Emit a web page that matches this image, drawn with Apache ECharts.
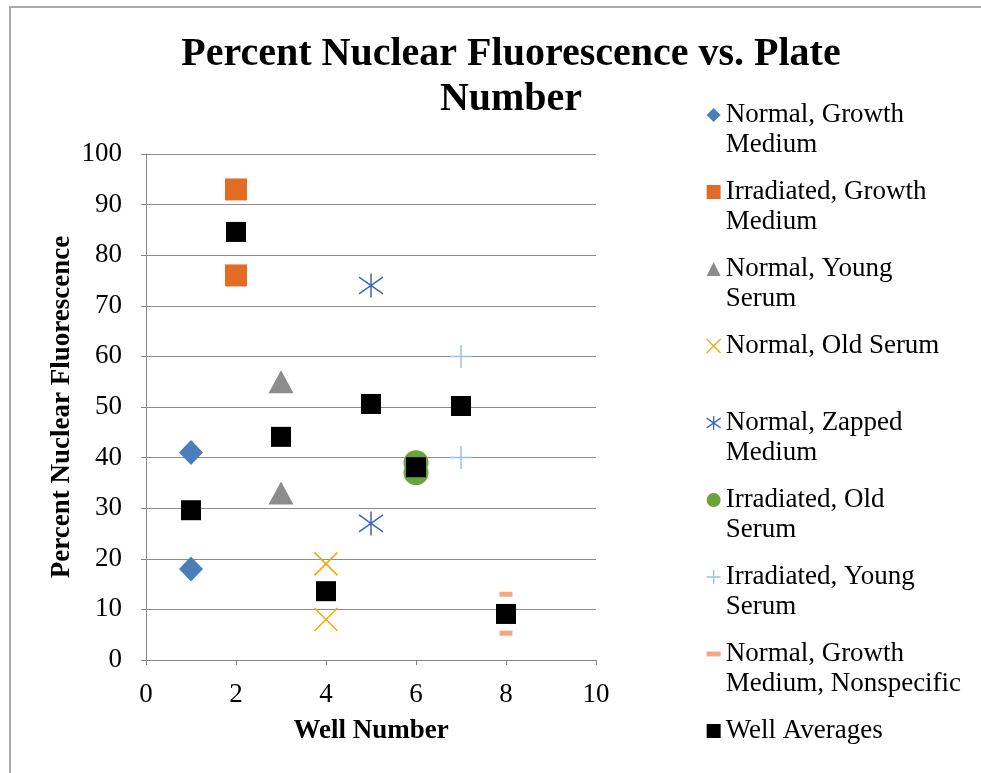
<!DOCTYPE html>
<html>
<head>
<meta charset="utf-8">
<script src="https://cdn.jsdelivr.net/npm/echarts@6/dist/echarts.min.js"></script>
<style>
html,body{margin:0;padding:0;background:#fff;}
#chart{width:981px;height:773px;}
</style>
</head>
<body>
<div id="chart"></div>
<script>
// ---- data ----
const seriesNames = [
  'Normal, Growth Medium',
  'Irradiated, Growth Medium',
  'Normal, Young Serum',
  'Normal, Old Serum',
  'Normal, Zapped Medium',
  'Irradiated, Old Serum',
  'Irradiated, Young Serum',
  'Normal, Growth Medium, Nonspecific',
  'Well Averages'
];
const legendLines = [
  ['Normal, Growth', 'Medium'],
  ['Irradiated, Growth', 'Medium'],
  ['Normal, Young', 'Serum'],
  ['Normal, Old Serum', ''],
  ['Normal, Zapped', 'Medium'],
  ['Irradiated, Old', 'Serum'],
  ['Irradiated, Young', 'Serum'],
  ['Normal, Growth', 'Medium, Nonspecific'],
  ['Well Averages', '']
];
const normalGrowthMedium = [[1, 41], [1, 18]];
const irradiatedGrowthMedium = [[2, 93], [2, 76]];
const normalYoungSerum = [[3, 55], [3, 33]];
const normalOldSerum = [[4, 19], [4, 8]];
const normalZappedMedium = [[5, 74], [5, 27]];
const irradiatedOldSerum = [[6, 39], [6, 37]];
const irradiatedYoungSerum = [[7, 60], [7, 40]];
const normalGrowthNonspecific = [[8, 13], [8, 5.3]];
const wellNumbers = [1, 2, 3, 4, 5, 6, 7, 8];
const wellAverages = [29.6, 84.6, 44.1, 13.6, 50.6, 38.1, 50.2, 9.1];

const chartTitle = 'Percent Nuclear Fluorescence vs. Plate\nNumber';
const xAxisTitle = 'Well Number';
const yAxisTitle = 'Percent Nuclear Fluorescence';

// ---- styles ----
const FONT = 'Liberation Serif';
const FS = 27;
const xPath = 'path://M0,0L10,10M10,0L0,10';
const starPath = 'path://M5,0L5,10M0,1.5L10,8.5M10,1.5L0,8.5';
const plusPath = 'path://M5,0L5,10M0,5L10,5';

const styles = [
  {symbol: 'diamond', size: [24, 25], item: {color: '#4A7EBB'}, icon: 'diamond', legendItem: {color: '#4A7EBB'}},
  {symbol: 'rect', size: 22, item: {color: '#E36C24'}, icon: 'rect', legendItem: {color: '#E36C24'}},
  {symbol: 'triangle', size: [25, 23], item: {color: '#8C8C8C'}, icon: 'triangle', legendItem: {color: '#8C8C8C'}},
  {symbol: xPath, size: 23, item: {color: 'rgba(0,0,0,0)', borderColor: '#EDAE00', borderWidth: 1.5}, icon: xPath, legendItem: {color: 'rgba(0,0,0,0)', borderColor: '#EDAE00', borderWidth: 1.3}},
  {symbol: starPath, size: 24, item: {color: 'rgba(0,0,0,0)', borderColor: '#3C68B8', borderWidth: 1.5}, icon: starPath, legendItem: {color: 'rgba(0,0,0,0)', borderColor: '#3C68B8', borderWidth: 1.3}},
  {symbol: 'circle', size: 25, item: {color: '#6AA23C'}, icon: 'circle', legendItem: {color: '#6AA23C'}},
  {symbol: plusPath, size: 23, item: {color: 'rgba(0,0,0,0)', borderColor: '#9DC0E8', borderWidth: 1.5}, icon: plusPath, legendItem: {color: 'rgba(0,0,0,0)', borderColor: '#9DC0E8', borderWidth: 1.3}},
  {symbol: 'rect', size: [13, 5], item: {color: '#F4A582'}, icon: 'path://M0,0L10,0L10,3.5L0,3.5Z', legendItem: {color: '#F4A582'}},
  {symbol: 'rect', size: 20, item: {color: '#000000'}, icon: 'rect', legendItem: {color: '#000000'}}
];

const seriesData = [
  normalGrowthMedium,
  irradiatedGrowthMedium,
  normalYoungSerum,
  normalOldSerum,
  normalZappedMedium,
  irradiatedOldSerum,
  irradiatedYoungSerum,
  normalGrowthNonspecific,
  wellNumbers.map((w, i) => [w, wellAverages[i]])
];

const series = seriesNames.map((name, i) => ({
  name: name,
  type: 'scatter',
  data: seriesData[i],
  symbol: styles[i].symbol,
  symbolSize: styles[i].size,
  itemStyle: Object.assign({opacity: 1}, styles[i].item),
  emphasis: {disabled: true},
  z: i === 8 ? 5 : 2
}));

// legend label: blank first line so the icon lines up with the first text line
const legendMap = {};
seriesNames.forEach((n, i) => { legendMap[n] = '\u00a0\n' + legendLines[i][0] + '\n' + (legendLines[i][1] || '\u00a0'); });

const chart = echarts.init(document.getElementById('chart'), null, {renderer: 'canvas'});
chart.setOption({
  animation: false,
  backgroundColor: '#ffffff',
  title: {
    text: chartTitle,
    left: 511,
    top: 32,
    padding: 0,
    textAlign: 'center',
    textStyle: {fontFamily: FONT, fontWeight: 'bold', fontSize: 40, lineHeight: 45, color: '#000'}
  },
  graphic: [{
    type: 'rect',
    shape: {x: 10, y: 7, width: 1100, height: 900},
    style: {fill: 'none', stroke: '#ABABAB', lineWidth: 2},
    silent: true
  }],
  grid: {left: 146, right: 385, top: 154, bottom: 113, containLabel: false},
  legend: {
    orient: 'vertical',
    left: 706,
    top: 70,
    height: 720,
    padding: 0,
    itemWidth: 14,
    itemHeight: 14,
    itemGap: -13,
    selectedMode: false,
    symbolKeepAspect: true,
    formatter: n => legendMap[n],
    textStyle: {fontFamily: FONT, fontSize: FS, lineHeight: 30, color: '#000'},
    data: seriesNames.map((n, i) => ({name: n, icon: styles[i].icon, itemStyle: styles[i].legendItem}))
  },
  xAxis: {
    type: 'value',
    min: 0, max: 10, interval: 2,
    name: xAxisTitle,
    nameLocation: 'middle',
    nameGap: 58,
    nameTextStyle: {fontFamily: FONT, fontWeight: 'bold', fontSize: FS, color: '#000'},
    axisLine: {show: true, lineStyle: {color: '#868686', width: 1}},
    axisTick: {show: true, inside: false, length: 5, lineStyle: {color: '#868686'}},
    axisLabel: {fontFamily: FONT, fontSize: FS, color: '#000', margin: 21},
    splitLine: {show: false}
  },
  yAxis: {
    type: 'value',
    min: 0, max: 100, interval: 10,
    name: yAxisTitle,
    nameLocation: 'middle',
    nameGap: 70,
    nameRotate: 90,
    nameTextStyle: {fontFamily: FONT, fontWeight: 'bold', fontSize: FS, color: '#000'},
    axisLine: {show: true, lineStyle: {color: '#868686', width: 1}},
    axisTick: {show: true, inside: false, length: 5, lineStyle: {color: '#868686'}},
    axisLabel: {fontFamily: FONT, fontSize: FS, color: '#000', margin: 24},
    splitLine: {show: true, lineStyle: {color: '#8C8C8C', width: 1}}
  },
  series: series
});
</script>
</body>
</html>
